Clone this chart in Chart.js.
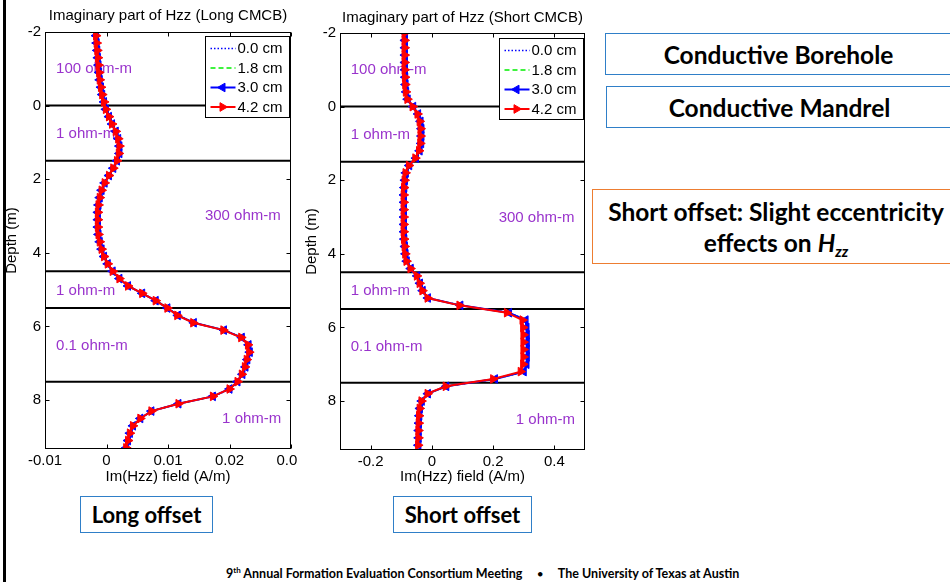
<!DOCTYPE html>
<html>
<head>
<meta charset="utf-8">
<script src="https://cdn.jsdelivr.net/npm/chart.js@4.4.1/dist/chart.umd.min.js"></script>
<style>
  html, body { margin: 0; padding: 0; background: #fff; }
  #slide { position: relative; width: 950px; height: 582px; overflow: hidden; background: #fff; font-family: Lato, 'Open Sans', sans-serif; }
  canvas { position: absolute; top: 0; }
  #cLong { left: 0; }
  #cShort { left: 297px; }
  .bar { position: absolute; left: 3px; top: 0; width: 3px; height: 582px; background: #000; }
  .box { position: absolute; box-sizing: border-box; border: 1.5px solid #2f7fc8; background: #fff;
         display: flex; align-items: center; justify-content: center; text-align: center;
         font-weight: 700; color: #000; font-size: 24.5px; white-space: nowrap; }
  .small { font-size: 22px; }
  .orange { border-color: #ed7d31; flex-direction: column; line-height: 31px; }
  .orange sub { font-size: 15px; vertical-align: -5px; line-height: 0; }
  #foot { position: absolute; left: 226px; top: 566px; font-size: 12.5px; font-weight: 700; white-space: nowrap; color: #000; }
  #foot sup { font-size: 8px; vertical-align: 5px; line-height: 0; }
  #foot .dot { display: inline-block; margin: 0 15px; font-size: 9px; vertical-align: 1px; }
</style>
</head>
<body>
<div id="slide">
  <canvas id="cLong" width="297" height="490"></canvas>
  <canvas id="cShort" width="294" height="490"></canvas>
  <div class="bar"></div>

  <div class="box" style="left:605px;top:33px;width:347px;height:42px;">Conductive Borehole</div>
  <div class="box" style="left:606px;top:86px;width:347px;height:42px;">Conductive Mandrel</div>
  <div class="box orange" style="left:592px;top:189px;width:368px;height:75px;">
    <div>Short offset: Slight eccentricity</div>
    <div>effects on <i>H<sub>zz</sub></i></div>
  </div>

  <div class="box small" style="left:80px;top:496px;width:133px;height:37px;">Long offset</div>
  <div class="box small" style="left:393px;top:496px;width:139px;height:37px;">Short offset</div>

  <div id="foot">9<sup>th</sup> Annual Formation Evaluation Consortium Meeting<span class="dot">●</span>The University of Texas at Austin</div>
</div>

<script>
// ---- shared axis / legend data ----
const depthTicks = [-2, 0, 2, 4, 6, 8];
const layerTops = [0, 1.5, 4.5, 5.5, 7.5];
const offsets = ['0.0 cm', '1.8 cm', '3.0 cm', '4.2 cm'];
const resistivities = ['100 ohm-m', '1 ohm-m', '300 ohm-m', '1 ohm-m', '0.1 ohm-m', '1 ohm-m'];

// ---- long CMCB spacing ----
const longTicks = [-0.01, 0, 0.01, 0.02, 0.03];
const longDepth = [-1.9,-1.7,-1.5,-1.3,-1.1,-0.9,-0.7,-0.5,-0.3,-0.1,
  0.1,0.3,0.5,0.7,0.9,1.1,1.3,1.5,1.7,1.9,
  2.1,2.3,2.5,2.7,2.9,3.1,3.3,3.5,3.7,3.9,
  4.1,4.3,4.5,4.7,4.9,5.1,5.3,5.5,5.7,5.9,
  6.1,6.3,6.5,6.7,6.9,7.1,7.3,7.5,7.7,7.9,
  8.1,8.3,8.5,8.7,8.9,9.1,9.3];
const long00 = [-0.0017,-0.0016,-0.0015,-0.0014,-0.0013,-0.0012,-0.0011,-0.0009,-0.0007,-0.0004,
  -0.0001,0.0004,0.0009,0.0015,0.0019,0.0021,0.0021,0.0017,0.0011,0.0004,
  -0.0003,-0.0008,-0.0011,-0.0013,-0.0014,-0.0014,-0.0014,-0.0013,-0.0011,-0.0008,
  -0.0004,0.0002,0.0010,0.0021,0.0035,0.0058,0.0081,0.0100,0.0116,0.0142,
  0.0191,0.0220,0.0231,0.0233,0.0229,0.0226,0.0221,0.0214,0.0201,0.0174,
  0.0118,0.0073,0.0055,0.0043,0.0038,0.0035,0.0032];
const long18 = [-0.0017,-0.0016,-0.0015,-0.0014,-0.0013,-0.0012,-0.0011,-0.0009,-0.0007,-0.0004,
  -0.0001,0.0004,0.0009,0.0015,0.0019,0.0021,0.0021,0.0017,0.0011,0.0004,
  -0.0003,-0.0008,-0.0011,-0.0013,-0.0014,-0.0014,-0.0014,-0.0013,-0.0011,-0.0008,
  -0.0004,0.0002,0.0010,0.0021,0.0035,0.0058,0.0080,0.0100,0.0116,0.0142,
  0.0191,0.0220,0.0231,0.0233,0.0229,0.0226,0.0221,0.0213,0.0200,0.0173,
  0.0117,0.0073,0.0055,0.0043,0.0038,0.0035,0.0032];
const long30 = [-0.0017,-0.0016,-0.0015,-0.0014,-0.0013,-0.0012,-0.0011,-0.0009,-0.0007,-0.0004,
  -0.0001,0.0004,0.0009,0.0015,0.0019,0.0021,0.0021,0.0017,0.0011,0.0004,
  -0.0003,-0.0008,-0.0011,-0.0013,-0.0014,-0.0014,-0.0014,-0.0013,-0.0011,-0.0008,
  -0.0004,0.0002,0.0010,0.0021,0.0035,0.0058,0.0080,0.0099,0.0116,0.0142,
  0.0191,0.0220,0.0231,0.0233,0.0229,0.0226,0.0221,0.0213,0.0200,0.0173,
  0.0117,0.0073,0.0055,0.0043,0.0038,0.0035,0.0032];
const long42 = [-0.0017,-0.0016,-0.0015,-0.0014,-0.0013,-0.0012,-0.0011,-0.0009,-0.0007,-0.0004,
  -0.0001,0.0004,0.0009,0.0015,0.0019,0.0021,0.0020,0.0017,0.0011,0.0004,
  -0.0003,-0.0008,-0.0011,-0.0013,-0.0014,-0.0014,-0.0014,-0.0013,-0.0011,-0.0008,
  -0.0004,0.0002,0.0010,0.0021,0.0035,0.0058,0.0080,0.0099,0.0115,0.0141,
  0.0190,0.0219,0.0230,0.0232,0.0228,0.0225,0.0220,0.0213,0.0200,0.0173,
  0.0117,0.0073,0.0055,0.0043,0.0038,0.0035,0.0032];

// ---- short CMCB spacing ----
const shortTicks = [-0.2, 0, 0.2, 0.4];
const shortDepth = [-2.0,-1.8,-1.6,-1.4,-1.2,-1.0,-0.8,-0.6,-0.4,-0.2,
  0.0,0.2,0.4,0.6,0.8,1.0,1.2,1.4,1.6,1.8,
  2.0,2.2,2.4,2.6,2.8,3.0,3.2,3.4,3.6,3.8,
  4.0,4.2,4.4,4.6,4.8,5.0,5.2,5.4,5.6,5.8,
  6.0,6.2,6.4,6.6,6.8,7.0,7.2,7.4,7.6,7.8,
  8.0,8.2,8.4,8.6,8.8,9.0,9.2];
const short00 = [-0.088,-0.088,-0.088,-0.088,-0.088,-0.088,-0.087,-0.086,-0.084,-0.079,
  -0.061,-0.045,-0.037,-0.034,-0.034,-0.035,-0.040,-0.052,-0.074,-0.085,
  -0.088,-0.090,-0.091,-0.091,-0.091,-0.091,-0.091,-0.091,-0.090,-0.088,
  -0.086,-0.082,-0.069,-0.048,-0.039,-0.030,-0.013,0.094,0.254,0.308,
  0.311,0.312,0.312,0.312,0.312,0.311,0.302,0.208,0.048,-0.013,
  -0.033,-0.039,-0.041,-0.042,-0.043,-0.043,-0.044];
const short18 = [-0.088,-0.088,-0.088,-0.088,-0.088,-0.088,-0.087,-0.086,-0.084,-0.079,
  -0.061,-0.045,-0.037,-0.035,-0.035,-0.036,-0.040,-0.053,-0.074,-0.085,
  -0.088,-0.090,-0.091,-0.091,-0.091,-0.091,-0.091,-0.091,-0.090,-0.088,
  -0.086,-0.082,-0.069,-0.048,-0.039,-0.030,-0.013,0.093,0.252,0.306,
  0.309,0.310,0.310,0.310,0.310,0.309,0.300,0.206,0.047,-0.013,
  -0.033,-0.039,-0.041,-0.042,-0.043,-0.043,-0.044];
const short30 = [-0.088,-0.088,-0.088,-0.088,-0.088,-0.088,-0.087,-0.086,-0.084,-0.079,
  -0.061,-0.045,-0.037,-0.034,-0.034,-0.035,-0.040,-0.052,-0.074,-0.085,
  -0.088,-0.090,-0.091,-0.091,-0.091,-0.091,-0.091,-0.091,-0.090,-0.088,
  -0.086,-0.082,-0.069,-0.048,-0.039,-0.030,-0.013,0.093,0.252,0.306,
  0.309,0.310,0.310,0.310,0.310,0.309,0.300,0.206,0.047,-0.013,
  -0.033,-0.039,-0.041,-0.042,-0.043,-0.043,-0.044];
const short42 = [-0.089,-0.089,-0.089,-0.089,-0.089,-0.089,-0.088,-0.087,-0.085,-0.080,
  -0.063,-0.047,-0.040,-0.037,-0.037,-0.038,-0.042,-0.054,-0.075,-0.086,
  -0.089,-0.091,-0.092,-0.092,-0.092,-0.092,-0.092,-0.092,-0.091,-0.089,
  -0.087,-0.083,-0.070,-0.049,-0.040,-0.031,-0.014,0.090,0.245,0.296,
  0.298,0.299,0.299,0.299,0.299,0.298,0.290,0.200,0.045,-0.014,
  -0.034,-0.040,-0.042,-0.043,-0.044,-0.044,-0.045];

// where each resistivity label sits, in axis units [field, depth]
const longLabelAt  = [[-0.0082,-1.0],[-0.0082,0.77],[0.016,3.0],[-0.0082,5.02],[-0.0082,6.53],[0.0188,8.52]];
const shortLabelAt = [[-0.265,-0.99],[-0.265,0.76],[0.218,3.02],[-0.265,5.0],[-0.265,6.54],[0.274,8.52]];

const FONT = "'Liberation Sans', Arial, Helvetica, sans-serif";
const seriesStyle = [
  { color: '#0000ff', width: 1.5, dash: [1.5, 2], marker: false },
  { color: '#00ee00', width: 1.5, dash: [5, 3], marker: false },
  { color: '#0000ff', width: 2, dash: [], marker: true, rot: -90 },
  { color: '#ff0000', width: 2, dash: [], marker: true, rot: 90 }
];

function fmt(v) { return String(parseFloat(Number(v).toFixed(4))); }

function curve(depth, vals, i) {
  const s = seriesStyle[i];
  return {
    label: offsets[i],
    data: depth.map((d, k) => ({ x: vals[k], y: d })),
    showLine: true,
    borderColor: s.color,
    backgroundColor: s.color,
    borderWidth: s.width,
    borderDash: s.dash,
    pointStyle: 'triangle',
    pointRotation: s.rot || 0,
    pointRadius: s.marker ? 5 : 0,
    pointBackgroundColor: s.color,
    pointBorderColor: s.color,
    pointBorderWidth: 1,
    tension: 0,
    order: 4 - i
  };
}

function boundaries(range) {
  return layerTops.map(d => ({
    label: 'layer',
    data: [{ x: range[0], y: d }, { x: range[1], y: d }],
    showLine: true,
    borderColor: '#000',
    borderWidth: 2,
    pointRadius: 0,
    order: 10
  }));
}

function decor(cfg) {
  return {
    id: 'decor',
    beforeDatasetsDraw(chart) {
      const { ctx, scales: { x, y } } = chart;
      ctx.save();
      ctx.fillStyle = '#9933cc';
      ctx.font = '15px ' + FONT;
      ctx.textBaseline = 'middle';
      ctx.textAlign = 'left';
      cfg.labelAt.forEach((p, i) => ctx.fillText(resistivities[i], x.getPixelForValue(p[0]), y.getPixelForValue(p[1])));
      ctx.restore();
    },
    afterDatasetsDraw(chart) {
      const { ctx, chartArea: a, scales: { x, y } } = chart;
      ctx.save();
      ctx.strokeStyle = '#000';
      ctx.lineWidth = 1;
      const L = Math.round(a.left) + 0.5, R = Math.round(a.right) - 0.5;
      const T = Math.round(a.top) + 0.5, B = Math.round(a.bottom) - 0.5;
      ctx.strokeRect(L, T, R - L, B - T);
      ctx.beginPath();
      const tl = 4;
      cfg.xTicks.forEach(v => {
        const px = Math.round(x.getPixelForValue(v)) + 0.5;
        ctx.moveTo(px, B); ctx.lineTo(px, B - tl);
        ctx.moveTo(px, T); ctx.lineTo(px, T + tl);
      });
      depthTicks.forEach(v => {
        const py = Math.round(y.getPixelForValue(v)) + 0.5;
        ctx.moveTo(L, py); ctx.lineTo(L + tl, py);
        ctx.moveTo(R, py); ctx.lineTo(R - tl, py);
      });
      ctx.stroke();
      ctx.restore();
    },
    afterDraw(chart) {
      const { ctx, chartArea: a } = chart;
      ctx.save();
      // legend
      const bw = 84, bh = 81;
      const bx = Math.round(a.right - 2 - bw) + 0.5, by = Math.round(a.top + cfg.legendDy) + 0.5;
      ctx.fillStyle = '#fff';
      ctx.fillRect(bx, by, bw, bh);
      ctx.strokeStyle = '#000';
      ctx.lineWidth = 1;
      ctx.strokeRect(bx, by, bw, bh);
      offsets.forEach((lab, i) => {
        const s = seriesStyle[i];
        const cy = by + 12 + i * 19.5;
        ctx.beginPath();
        ctx.setLineDash(s.dash);
        ctx.strokeStyle = s.color;
        ctx.lineWidth = s.width;
        ctx.moveTo(bx + 5, cy);
        ctx.lineTo(bx + 30, cy);
        ctx.stroke();
        ctx.setLineDash([]);
        if (s.marker) {
          ctx.fillStyle = s.color;
          ctx.strokeStyle = s.color;
          ctx.lineWidth = 1;
          Chart.helpers.drawPoint(ctx, { pointStyle: 'triangle', rotation: s.rot, radius: 5, borderWidth: 1 }, bx + 17, cy);
        }
        ctx.fillStyle = '#000';
        ctx.font = '15px ' + FONT;
        ctx.textAlign = 'left';
        ctx.textBaseline = 'middle';
        ctx.fillText(lab, bx + 32, cy + 0.5);
      });
      // titles
      const cx = (a.left + a.right) / 2;
      ctx.fillStyle = '#000';
      ctx.font = '15px ' + FONT;
      ctx.textAlign = 'center';
      ctx.textBaseline = 'middle';
      ctx.fillText(cfg.title, cx, cfg.titleY);
      ctx.fillText('Im(Hzz) field (A/m)', cx, 477);
      ctx.translate(cfg.depthLabelX, (a.top + a.bottom) / 2);
      ctx.rotate(-Math.PI / 2);
      ctx.fillText('Depth (m)', 0, 0);
      ctx.restore();
    }
  };
}

function makeChart(id, cfg) {
  const datasets = boundaries(cfg.range).concat(cfg.series.map((vals, i) => curve(cfg.depth, vals, i)));
  return new Chart(document.getElementById(id), {
    type: 'scatter',
    data: { datasets },
    options: {
      responsive: false,
      animation: false,
      devicePixelRatio: 1,
      layout: { padding: { top: cfg.top, right: cfg.right, left: 0, bottom: 0 } },
      plugins: { legend: { display: false }, tooltip: { enabled: false }, title: { display: false } },
      events: [],
      scales: {
        x: {
          type: 'linear', position: 'bottom', min: cfg.range[0], max: cfg.range[1],
          grid: { display: false, drawTicks: false }, border: { display: false },
          afterBuildTicks: s => { s.ticks = cfg.xTicks.map(v => ({ value: v })); },
          afterFit: s => { s.height = cfg.xHeight; s.paddingLeft = 0; s.paddingRight = 0; },
          ticks: { padding: 3, color: '#000', font: { family: FONT, size: 15 }, maxRotation: 0, autoSkip: false, callback: v => fmt(v) }
        },
        y: {
          type: 'linear', position: 'left', reverse: true, min: -2, max: 9.33,
          grid: { display: false, drawTicks: false }, border: { display: false },
          afterBuildTicks: s => { s.ticks = depthTicks.map(v => ({ value: v })); },
          afterFit: s => { s.width = cfg.yWidth; s.paddingTop = 0; s.paddingBottom = 0; },
          ticks: { padding: 4, color: '#000', font: { family: FONT, size: 15 }, autoSkip: false, callback: v => fmt(v) }
        }
      }
    },
    plugins: [decor(cfg)]
  });
}

makeChart('cLong', {
  depth: longDepth, series: [long00, long18, long30, long42],
  range: [-0.01, 0.03], xTicks: longTicks, labelAt: longLabelAt,
  title: 'Imaginary part of Hzz (Long CMCB)', titleY: 16,
  top: 32, right: 4, yWidth: 45, xHeight: 41, depthLabelX: 12, legendDy: 4
});

makeChart('cShort', {
  depth: shortDepth, series: [short00, short18, short30, short42],
  range: [-0.3, 0.5], xTicks: shortTicks, labelAt: shortLabelAt,
  title: 'Imaginary part of Hzz (Short CMCB)', titleY: 18,
  top: 33, right: 4, yWidth: 43, xHeight: 40, depthLabelX: 15, legendDy: 5
});
</script>
</body>
</html>
